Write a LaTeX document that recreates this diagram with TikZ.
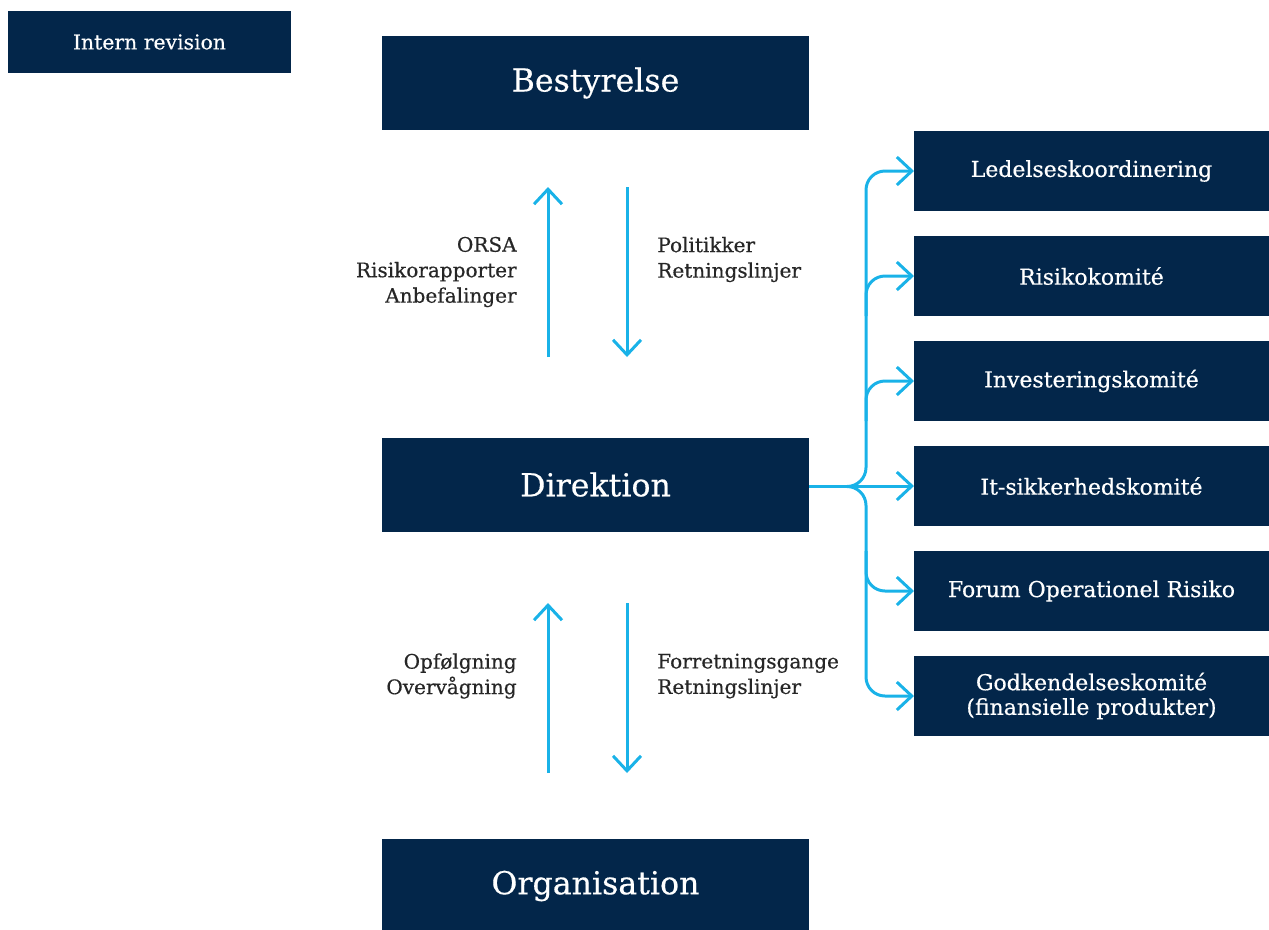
\documentclass[tikz,border=0pt]{standalone}
\usepackage{fontspec}
\setmainfont[FakeBold=0.45]{DejaVu Serif}
\usepackage{tikz}
\usepackage{xcolor}
\usetikzlibrary{positioning,arrows.meta,calc}
\definecolor{navy}{HTML}{03264A}
\definecolor{sky}{HTML}{19B2E8}

\begin{document}
\begin{tikzpicture}
[box-a/.style={rectangle, fill=navy, text=white, minimum width=8.54cm, minimum height=1.88cm, inner sep=0pt, outer sep=0pt, font=\fontsize{18}{22}\selectfont},
box-b/.style={rectangle, fill=navy, text=white, minimum width=7.10cm, minimum height=1.60cm, inner sep=0pt, outer sep=0pt, align=center, font=\fontsize{12.5}{14}\selectfont},
box-c/.style={rectangle, fill=navy, text=white, minimum width=5.66cm, minimum height=1.24cm, inner sep=0pt, outer sep=0pt, font=\fontsize{11.6}{14}\selectfont},
text-a/.style={inner sep=0pt, text=black!85, font=\fontsize{11.4}{14.5}\selectfont},
flow-a/.style={draw=sky, line width=1.7pt, -{Straight Barb[length=0.3cm,width=0.56cm]}},
flow-b/.style={flow-a, rounded corners=0.38cm},]
\useasboundingbox (0,0) rectangle (25.38,-18.58);
\node (intern)  [box-c] at (2.99,-0.84)             {Intern revision};
\node (best)    [box-a] at (11.91,-1.66)            {Bestyrelse};
\node (direk)   [box-a, below = 6.15cm of best]     {Direktion};
\node (org)     [box-a, below = 6.15cm of direk]    {Organisation};
\node (ledelse) [box-b] at (21.83,-3.42)            {Ledelseskoordinering};
\node (risiko)  [box-b, below = 0.5cm of ledelse]   {Risikokomité};
\node (invest)  [box-b, below = 0.5cm of risiko]    {Investeringskomité};
\node (itsik)   [box-b, below = 0.5cm of invest]    {It-sikkerhedskomité};
\node (forum)   [box-b, below = 0.5cm of itsik]     {Forum Operationel Risiko};
\node (godk)    [box-b, below = 0.5cm of forum]     {Godkendelseskomité\\(finansielle produkter)};
% arrows between the levels
\coordinate (up-1-s) at (10.96,-7.14);
\coordinate (up-1-n) at (10.96,-3.74);
\coordinate (dn-1-n) at (12.54,-3.74);
\coordinate (dn-1-s) at (12.54,-7.14);
\coordinate (up-2-s) at (10.96,-15.46);
\coordinate (up-2-n) at (10.96,-12.06);
\coordinate (dn-2-n) at (12.54,-12.06);
\coordinate (dn-2-s) at (12.54,-15.46);
\draw [flow-a] (up-1-s) -- (up-1-n);
\draw [flow-a] (dn-1-n) -- (dn-1-s);
\draw [flow-a] (up-2-s) -- (up-2-n);
\draw [flow-a] (dn-2-n) -- (dn-2-s);
\node (up-1-txt) [text-a, anchor=east, align=right] at (10.34,-5.44)  {ORSA\\Risikorapporter\\Anbefalinger};
\node (dn-1-txt) [text-a, anchor=west, align=left]  at (13.14,-5.19)  {Politikker\\Retningslinjer};
\node (up-2-txt) [text-a, anchor=east, align=right] at (10.34,-13.52) {Opfølgning\\Overvågning};
\node (dn-2-txt) [text-a, anchor=west, align=left]  at (13.14,-13.52) {Forretningsgange\\Retningslinjer};
% branches to the committees
\coordinate (trunk) at (17.32,-9.73);
\draw [flow-a] (direk.east |- itsik.west) -- (itsik.west);
\draw [flow-b] ($(trunk)+(-0.38,0)$) -| (trunk |- ledelse.west) -- (ledelse.west);
\draw [flow-b] ($(trunk)+(-0.38,0)$) -| (trunk |- godk.west) -- (godk.west);
\draw [flow-b] ($(trunk |- risiko.west)+(0,-0.8)$) |- (risiko.west);
\draw [flow-b] ($(trunk |- invest.west)+(0,-0.8)$) |- (invest.west);
\draw [flow-b] ($(trunk |- forum.west)+(0,0.8)$) |- (forum.west);
\end{tikzpicture}
\end{document}
